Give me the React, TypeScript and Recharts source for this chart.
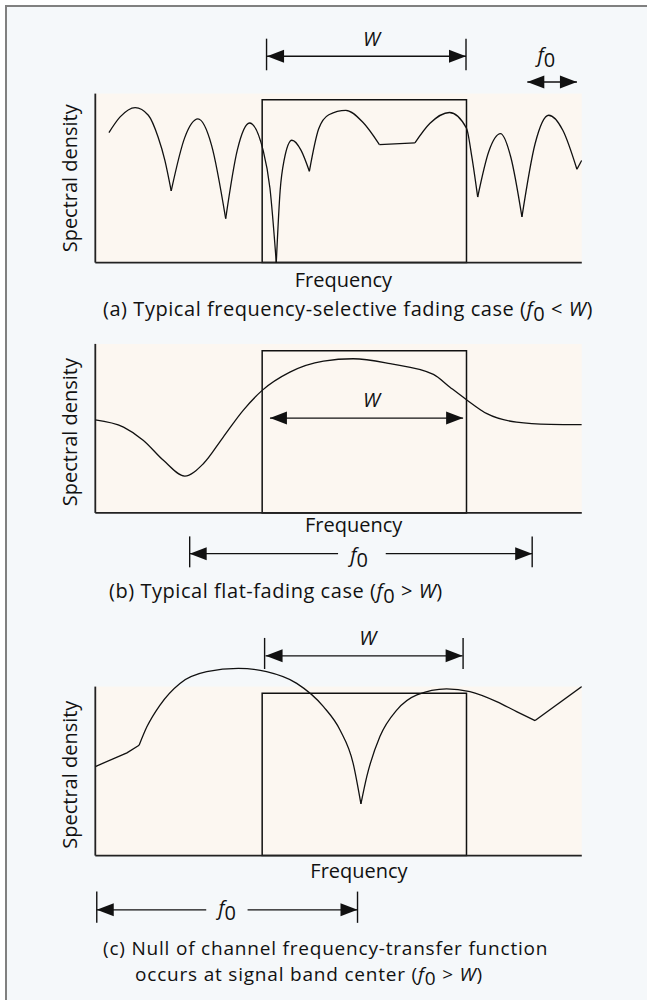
import React from 'react';
import { LineChart, Line, XAxis, YAxis, ReferenceArea, ReferenceLine, ReferenceDot } from 'recharts';

type Pt = [number, number];

// ---------- Data (frequency 0..100 across the plot, spectral density 0..100 = top of shaded area) ----------
// Panel (a): frequency-selective fading
const spectrumA_smooth: Pt[][] = [
  [[2.8, 76.9], [5.1, 86.2], [8.2, 91.7], [10.9, 87.2], [12.9, 74.3], [14.3, 60.5], [15.6, 42.4]],
  [[15.6, 42.4], [18.4, 74.1], [21.1, 85.0], [23.9, 69.4], [26.8, 26.0]],
  [[26.8, 26.0], [29.2, 66.7], [31.7, 82.6], [34.5, 66.4], [35.9, 44.0], [37.2, 0]],
  [[37.2, 0], [38.0, 42.8], [38.8, 60.5], [40.4, 72.4], [42.3, 66.4], [44.0, 54.0]],
  [[44.0, 54.0], [45.9, 79.0], [48.0, 87.5], [51.5, 90.1], [55.0, 83.0], [58.4, 69.8]],
  [[65.7, 70.8], [68.8, 82.4], [72.8, 88.8], [76.3, 79.5], [77.4, 62.5], [78.6, 38.8]],
  [[78.6, 38.8], [80.9, 65.9], [83.3, 76.3], [85.4, 62.5], [87.7, 27.0]],
  [[87.7, 27.0], [90.4, 70.3], [93.2, 87.2], [96.1, 78.3], [99.0, 55.2]],
];
const spectrumA_straight: Pt[][] = [
  [[58.4, 69.8], [65.7, 70.8]],
  [[99.0, 55.2], [100, 60.5]],
];
const bandA = { from: 34.3, to: 76.3, level: 96.4 };

// Panel (b): flat fading
const spectrumB_smooth: Pt[][] = [
  [[0, 55.1], [5.8, 50.8], [9.9, 42.9], [14.0, 31.1], [18.4, 21.8], [22.2, 29.1], [26.3, 44.9], [30.4, 60.7],
   [34.3, 72.5], [40.0, 83.3], [46.9, 89.8], [53.0, 91.2], [60.6, 88.3], [69.5, 82.0], [72.9, 74.4],
   [76.3, 67.0], [80.5, 58.7], [86.6, 53.7], [93.5, 52.4], [100, 52.2]],
];
const bandB = { from: 34.3, to: 76.3, level: 96.0 };

// Panel (c): null at band centre
const spectrumC_smooth: Pt[][] = [
  [[9.0, 65.3], [10.6, 76.2], [13.3, 89.1], [17.4, 101.9], [22.9, 108.8], [29.4, 110.8], [35.2, 108.8],
   [41.4, 101.9], [46.9, 88.1], [50.3, 74.3], [53.0, 54.6], [54.6, 30.6]],
  [[54.6, 30.6], [55.8, 46.7], [58.5, 70.4], [62.0, 86.2], [66.1, 95.1], [72.2, 98.7], [77.0, 97.0],
   [82.5, 91.1], [86.6, 85.2], [90.4, 79.9]],
];
const spectrumC_straight: Pt[][] = [
  [[0, 52.7], [6.5, 60.8], [9.0, 65.3]],
  [[90.4, 79.9], [100, 100]],
];
const bandC = { from: 34.3, to: 76.3, level: 96.1 };

// Annotations: arrows [x1, x2, y], ticks [x, y1, y2]
const arrowsA_both = [[35.3, 76.2, 122.1], [88.8, 99.0, 106.9]];
const ticksA = [[35.2, 113.8, 132.5], [76.2, 113.8, 132.5]];
const arrowsB_both = [[35.9, 75.6, 56.1]];
const arrowsB_left = [[19.4, 49.9, -24.1]];
const arrowsB_right = [[59.7, 89.8, -24.1]];
const ticksB = [[19.4, -13.9, -32.2], [89.8, -13.9, -32.2]];
const arrowsC_both = [[35.0, 75.5, 118.2]];
const arrowsC_left = [[0.3, 22.8, -32.1]];
const arrowsC_right = [[31.3, 53.9, -32.1]];
const ticksC = [[34.8, 110.4, 128.8], [75.6, 110.4, 128.8], [0.3, -21.3, -39.8], [53.9, -21.3, -39.8]];

// Label anchors: [x, y]
const labelsA = { W: [56.8, 128.4], f0: [92.7, 118.5], freq: [51.0, -14.3], dens: [-3.66, 49.9] };
const labelsB = { W: [56.8, 62.6], f0: [54.2, -29.3], freq: [53.1, -11.2], dens: [-3.66, 47.8] };
const labelsC = { W: [56.0, 124.7], f0: [27.1, -35.1], freq: [54.2, -13.3], dens: [-3.66, 47.9] };

const captionA = 'Typical frequency-selective fading case';
const captionB = 'Typical flat-fading case';
const captionC1 = '(c) Null of channel frequency-transfer function';
const captionC2 = 'occurs at signal band center';

// ---------- Styling ----------
const PX_PER_UNIT_Y = 1.69;
const MARGIN = { top: 0, right: 65.2, bottom: 0, left: 95.3 };
const FONT = "'Open Sans', 'Noto Sans', sans-serif";
const FS = 20;
const CAP_SPACING = 0.55;
const INK = '#111';

function arrowShape(startHead: boolean, endHead: boolean) {
  return (p: any) => {
    const { x1, y1, x2, y2 } = p;
    const L = 17, H = 6.5;
    const dx = x2 - x1, dy = y2 - y1;
    const len = Math.hypot(dx, dy) || 1;
    const ux = dx / len, uy = dy / len;
    const nx = -uy, ny = ux;
    const head = (tx: number, ty: number, dir: number) => {
      const bx = tx - dir * ux * L, by = ty - dir * uy * L;
      return `${tx},${ty} ${bx + nx * H},${by + ny * H} ${bx - nx * H},${by - ny * H}`;
    };
    return (
      <g>
        <line x1={x1} y1={y1} x2={x2} y2={y2} stroke={INK} strokeWidth={1.4} />
        {startHead && <polygon points={head(x1, y1, -1)} fill={INK} />}
        {endHead && <polygon points={head(x2, y2, 1)} fill={INK} />}
      </g>
    );
  };
}

const textShape = (kind: 'W' | 'f0' | 'freq' | 'dens') => (p: any) => {
  const { cx, cy } = p;
  const common = { fontFamily: FONT, fontSize: FS, fill: INK } as any;
  if (kind === 'W')
    return <text x={cx} y={cy} textAnchor="middle" fontStyle="italic" {...common}>W</text>;
  if (kind === 'f0')
    return (
      <text x={cx} y={cy} textAnchor="middle" {...common}>
        <tspan fontStyle="italic">f</tspan>
        <tspan dy={5}>0</tspan>
      </text>
    );
  if (kind === 'freq')
    return <text x={cx} y={cy} textAnchor="middle" {...common}>Frequency</text>;
  return (
    <text x={cx} y={cy} textAnchor="middle" transform={`rotate(-90 ${cx} ${cy})`} {...common}>
      Spectral density
    </text>
  );
};

function curveLines(segs: Pt[][], type: any, prefix: string) {
  return segs.map((seg, i) => (
    <Line
      key={`${prefix}${i}`}
      data={seg.map(([x, y]) => ({ x, y }))}
      dataKey="y"
      type={type}
      stroke={INK}
      strokeWidth={1.3}
      dot={false}
      activeDot={false}
      isAnimationActive={false}
    />
  ));
}

function arrowLines(list: number[][], s: boolean, e: boolean, prefix: string) {
  return list.map(([a, b, y], i) => (
    <ReferenceLine
      key={`${prefix}${i}`}
      segment={[{ x: a, y }, { x: b, y }]}
      ifOverflow="visible"
      shape={arrowShape(s, e)}
    />
  ));
}

function tickLines(list: number[][], prefix: string) {
  return list.map(([x, a, b], i) => (
    <ReferenceLine
      key={`${prefix}${i}`}
      segment={[{ x, y: a }, { x, y: b }]}
      ifOverflow="visible"
      stroke={INK}
      strokeWidth={1.4}
    />
  ));
}

function labelDots(labels: Record<string, number[]>, prefix: string) {
  return Object.entries(labels).map(([k, [x, y]]) => (
    <ReferenceDot
      key={`${prefix}${k}`}
      x={x}
      y={y}
      r={0}
      ifOverflow="visible"
      shape={textShape(k as any)}
    />
  ));
}

function Panel(props: {
  axisTop: number; yMin: number; yMax: number;
  band: { from: number; to: number; level: number };
  children: React.ReactNode;
}) {
  const { axisTop, yMin, yMax, band, children } = props;
  const height = (yMax - yMin) * PX_PER_UNIT_Y;
  const top = axisTop - yMax * PX_PER_UNIT_Y;
  return (
    <div style={{ position: 'absolute', left: 0, top, width: 647, height }}>
      <LineChart width={647} height={height} margin={MARGIN}>
        <XAxis type="number" dataKey="x" domain={[0, 100]} allowDataOverflow hide />
        <YAxis type="number" dataKey="y" domain={[yMin, yMax]} allowDataOverflow hide />
        <ReferenceArea x1={0} x2={100} y1={0} y2={100} fill="#fcf7f1" fillOpacity={1} stroke="none" ifOverflow="visible" />
        <ReferenceArea x1={band.from} x2={band.to} y1={0} y2={band.level} fill="none" stroke={INK} strokeWidth={1.5} ifOverflow="visible" />
        <ReferenceLine segment={[{ x: 0, y: 0 }, { x: 100, y: 0 }]} stroke="#222" strokeWidth={1.8} ifOverflow="visible" />
        <ReferenceLine segment={[{ x: 0, y: 0 }, { x: 0, y: 100 }]} stroke="#222" strokeWidth={1.8} ifOverflow="visible" />
        {children}
      </LineChart>
    </div>
  );
}

function Caption({ x, y, label, prefix, rel }: { x: number; y: number; label: string; prefix: string; rel: string }) {
  return (
    <text x={x} y={y} fontFamily={FONT} fontSize={FS} fill={INK} letterSpacing={CAP_SPACING}>
      {prefix}
      {label} (
      <tspan fontStyle="italic">f</tspan>
      <tspan dy={5}>0</tspan>
      <tspan dy={-5}>{` ${rel} `}</tspan>
      <tspan fontStyle="italic">W</tspan>)
    </text>
  );
}

export default function App() {
  return (
    <div style={{ position: 'absolute', left: 0, top: 0, width: 647, height: 1000, background: '#ffffff', overflow: 'hidden' }}>
      <div
        style={{
          position: 'absolute', left: 5, top: 5, width: 642, height: 995, boxSizing: 'border-box',
          background: '#f5f8fa', borderTop: '2px solid #808080', borderLeft: '2px solid #808080',
        }}
      />
      <svg width={647} height={1000} style={{ position: 'absolute', left: 0, top: 0 }}>
        <Caption x={103} y={316} prefix="(a) " label={captionA} rel="<" />
        <Caption x={109} y={597.5} prefix="(b) " label={captionB} rel=">" />
        <text x={103} y={954.5} fontFamily={FONT} fontSize={19} fill={INK} letterSpacing={0.8}>{captionC1}</text>
        <text x={135} y={980.5} fontFamily={FONT} fontSize={19} fill={INK} letterSpacing={0.8}>
          {captionC2} (<tspan fontStyle="italic">f</tspan><tspan dy={4}>0</tspan><tspan dy={-4}>{' > '}</tspan><tspan fontStyle="italic">W</tspan>)
        </text>
      </svg>

      <Panel axisTop={262.3} yMin={-22} yMax={140} band={bandA}>
        {curveLines(spectrumA_smooth, 'monotoneX', 'as')}
        {curveLines(spectrumA_straight, 'linear', 'al')}
        {arrowLines(arrowsA_both, true, true, 'aa')}
        {tickLines(ticksA, 'at')}
        {labelDots(labelsA, 'ad')}
      </Panel>

      <Panel axisTop={512.5} yMin={-40} yMax={110} band={bandB}>
        {curveLines(spectrumB_smooth, 'monotoneX', 'bs')}
        {arrowLines(arrowsB_both, true, true, 'ba')}
        {arrowLines(arrowsB_left, true, false, 'bl')}
        {arrowLines(arrowsB_right, false, true, 'br')}
        {tickLines(ticksB, 'bt')}
        {labelDots(labelsB, 'bd')}
      </Panel>

      <Panel axisTop={855.7} yMin={-45} yMax={140} band={bandC}>
        {curveLines(spectrumC_smooth, 'monotoneX', 'cs')}
        {curveLines(spectrumC_straight, 'linear', 'cl')}
        {arrowLines(arrowsC_both, true, true, 'ca')}
        {arrowLines(arrowsC_left, true, false, 'cl2')}
        {arrowLines(arrowsC_right, false, true, 'cr')}
        {tickLines(ticksC, 'ct')}
        {labelDots(labelsC, 'cd')}
      </Panel>
    </div>
  );
}
